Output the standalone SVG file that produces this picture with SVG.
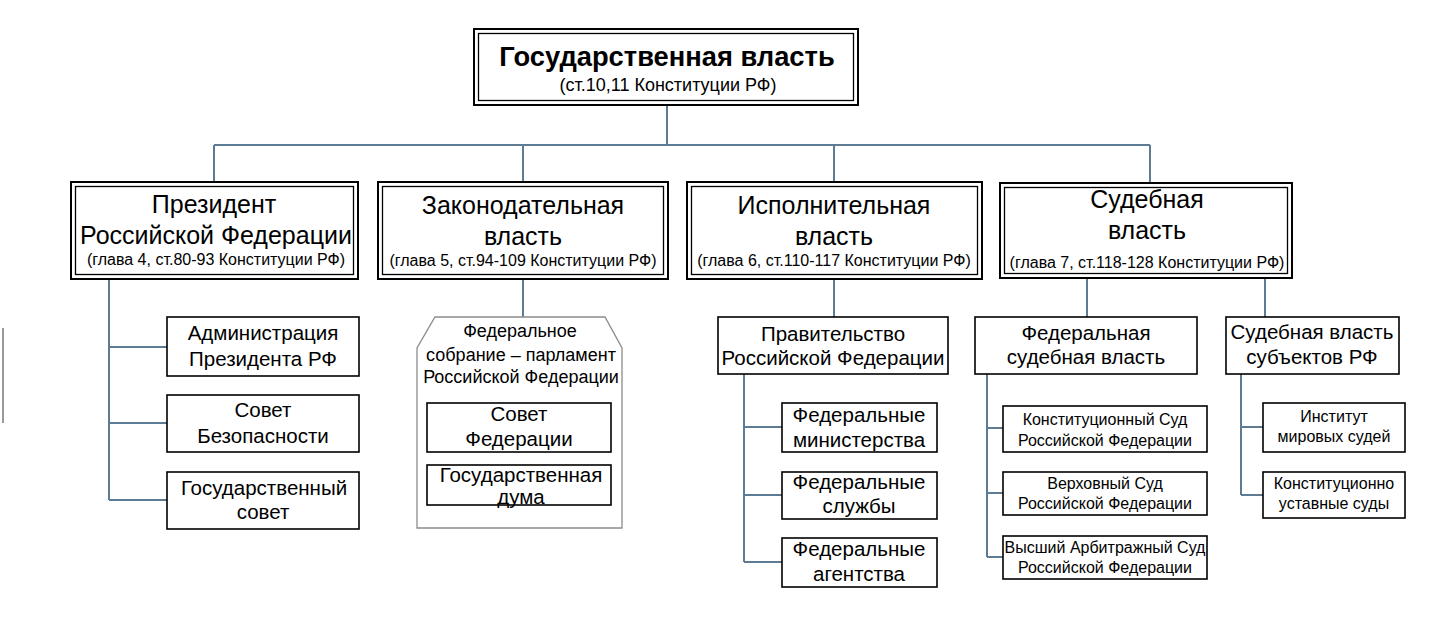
<svg xmlns="http://www.w3.org/2000/svg" width="1430" height="617" viewBox="0 0 1430 617">
<style>
text{font-family:"Liberation Sans",Arial,sans-serif;fill:#000;text-anchor:middle}
.o{fill:#fff;stroke:#000;stroke-width:2}
.i{fill:none;stroke:#000;stroke-width:1.3}
.b{fill:#fff;stroke:#000;stroke-width:1.6}
.c{fill:none;stroke:#5d7b93;stroke-width:2}
.t{font-size:27.3px;font-weight:bold}
.s{font-size:18px}
.h{font-size:25px}
.g{font-size:16px}
.m{font-size:20.5px}
.n{font-size:16px}
</style>
<rect width="1430" height="617" fill="#fff"/>
<line x1="3" y1="328" x2="3" y2="423" stroke="#999" stroke-width="2"/>
<g id="connectors">
<path class="c" d="M667 105V145M214 145H1150M214 145V182M523 145V182M834 145V182M1150 145V182"/>
<path class="c" d="M109 280V500M109 347H167M109 423H167M109 500H167"/>
<path class="c" d="M523 280V317"/>
<path class="c" d="M834 280V317M744 374V562M744 427H782M744 495H782M744 562H782"/>
<path class="c" d="M1087 279V317M1265 279V317"/>
<path class="c" d="M987 374V557M987 428H1003M987 493H1003M987 557H1003"/>
<path class="c" d="M1241 374V495M1241 427H1263M1241 495H1263"/>
</g>
<g id="root">
<rect class="o" x="474" y="29" width="384" height="76"/>
<rect class="i" x="478.5" y="33.5" width="375" height="67"/>
<text class="t" x="667" y="66">Государственная власть</text>
<text class="s" x="668" y="91">(ст.10,11 Конституции РФ)</text>
</g>
<g id="president">
<rect class="o" x="71" y="182" width="287" height="97"/>
<rect class="i" x="75.5" y="186.5" width="278" height="88"/>
<text class="h" x="214" y="213">Президент</text>
<text class="h" x="216" y="244">Российской Федерации</text>
<text class="g" x="216" y="265">(глава 4, ст.80-93 Конституции РФ)</text>
</g>
<g id="legislative">
<rect class="o" x="378" y="182" width="290" height="97"/>
<rect class="i" x="382.5" y="186.5" width="281" height="88"/>
<text class="h" x="523" y="214">Законодательная</text>
<text class="h" x="523" y="245">власть</text>
<text class="g" x="523" y="266">(глава 5, ст.94-109 Конституции РФ)</text>
</g>
<g id="executive">
<rect class="o" x="687" y="182" width="295" height="97"/>
<rect class="i" x="691.5" y="186.5" width="286" height="88"/>
<text class="h" x="834" y="214">Исполнительная</text>
<text class="h" x="834" y="245">власть</text>
<text class="g" x="834" y="266">(глава 6, ст.110-117 Конституции РФ)</text>
</g>
<g id="judicial">
<rect class="o" x="1000" y="183" width="292" height="95"/>
<rect class="i" x="1004.5" y="187.5" width="283" height="86"/>
<text class="h" x="1147" y="208">Судебная</text>
<text class="h" x="1147" y="239">власть</text>
<text class="g" x="1147" y="268">(глава 7, ст.118-128 Конституции РФ)</text>
</g>
<g id="admin">
<rect class="b" x="167" y="317" width="192" height="59"/>
<text class="m" x="263" y="340">Администрация</text>
<text class="m" x="263" y="366">Президента РФ</text>
</g>
<g id="security">
<rect class="b" x="167" y="395" width="192" height="57"/>
<text class="m" x="263" y="417">Совет</text>
<text class="m" x="263" y="443">Безопасности</text>
</g>
<g id="statecouncil">
<rect class="b" x="167" y="472" width="192" height="57"/>
<text class="m" x="264" y="495">Государственный</text>
<text class="m" x="263" y="519">совет</text>
</g>
<g id="assembly">
<path d="M435 317H605L622 348V528H417V348Z" fill="#fff" stroke="#8c8c8c" stroke-width="1.3"/>
<text class="s" x="520" y="337">Федеральное</text>
<text class="s" x="521" y="361">собрание – парламент</text>
<text class="s" x="521" y="383">Российской Федерации</text>
</g>
<g id="federationcouncil">
<rect class="b" x="427" y="403" width="184" height="49"/>
<text class="m" x="519" y="421">Совет</text>
<text class="m" x="519" y="446">Федерации</text>
</g>
<g id="duma">
<rect class="b" x="427" y="465" width="184" height="40"/>
<text class="m" x="521" y="482">Государственная</text>
<text class="m" x="521" y="504">дума</text>
</g>
<g id="government">
<rect class="b" x="718" y="317" width="230" height="57"/>
<text class="m" x="833" y="341">Правительство</text>
<text class="m" x="833" y="365">Российской Федерации</text>
</g>
<g id="ministries">
<rect class="b" x="782" y="403" width="155" height="49"/>
<text class="m" x="859" y="422">Федеральные</text>
<text class="m" x="859" y="447">министерства</text>
</g>
<g id="services">
<rect class="b" x="782" y="472" width="155" height="47"/>
<text class="m" x="859" y="489">Федеральные</text>
<text class="m" x="859" y="513">службы</text>
</g>
<g id="agencies">
<rect class="b" x="782" y="538" width="155" height="49"/>
<text class="m" x="859" y="556">Федеральные</text>
<text class="m" x="859" y="581">агентства</text>
</g>
<g id="federaljudicial">
<rect class="b" x="975" y="317" width="222" height="57"/>
<text class="m" x="1086" y="340">Федеральная</text>
<text class="m" x="1086" y="364">судебная власть</text>
</g>
<g id="constitutionalcourt">
<rect class="b" x="1003" y="406" width="204" height="46"/>
<text class="n" x="1105" y="425">Конституционный Суд</text>
<text class="n" x="1105" y="446">Российской Федерации</text>
</g>
<g id="supremecourt">
<rect class="b" x="1003" y="472" width="204" height="43"/>
<text class="n" x="1105" y="489">Верховный Суд</text>
<text class="n" x="1105" y="509">Российской Федерации</text>
</g>
<g id="arbitrazhcourt">
<rect class="b" x="1003" y="536" width="204" height="43"/>
<text class="n" x="1105" y="553">Высший Арбитражный Суд</text>
<text class="n" x="1105" y="573">Российской Федерации</text>
</g>
<g id="regionaljudicial">
<rect class="b" x="1226" y="317" width="173" height="57"/>
<text class="m" x="1312" y="339">Судебная власть</text>
<text class="m" x="1312" y="364">субъектов РФ</text>
</g>
<g id="magistrates">
<rect class="b" x="1263" y="403" width="142" height="49"/>
<text class="n" x="1334" y="422">Институт</text>
<text class="n" x="1334" y="442">мировых судей</text>
</g>
<g id="charter">
<rect class="b" x="1263" y="472" width="142" height="46"/>
<text class="n" x="1334" y="489">Конституционно</text>
<text class="n" x="1334" y="509">уставные суды</text>
</g>
</svg>
